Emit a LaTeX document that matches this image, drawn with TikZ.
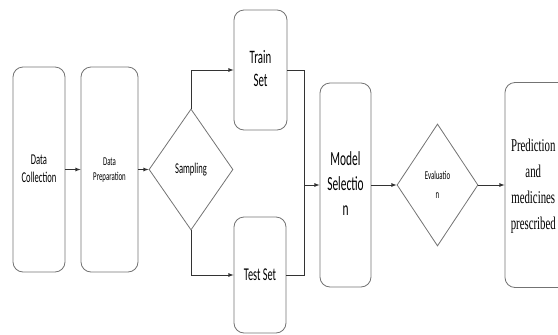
\documentclass[tikz,border=0pt]{standalone}
\usepackage{graphicx}
\usepackage{fontspec}
\setmainfont{Carlito}
\newfontfamily\predfont{Liberation Serif}
\usetikzlibrary{shapes.geometric}
\newcommand{\squash}[2][0.57]{\scalebox{#1}[1]{#2}}

\tikzset{
  stage/.style={draw=black!55, line width=0.8pt, rounded corners=10pt, inner sep=0pt},
  check/.style={diamond, draw=black!55, line width=0.8pt, inner sep=0pt},
  flow/.style={-latex, draw=black!80, line width=0.8pt},
}

\begin{document}
\begin{tikzpicture}[x=1pt,y=-1pt]
\useasboundingbox (0,0) rectangle (558,335);
\clip (0,0) rectangle (558,335);

\node[stage, minimum width=52pt, minimum height=205pt, font=\fontsize{15}{18}\selectfont] (dc) at (39,169.5) {
    \squash{\begin{tabular}{c}
    Data\\
    Collection
    \end{tabular}}
    };
\node[stage, right of=dc, node distance=70.5pt, minimum width=57pt, minimum height=205pt, font=\fontsize{12}{15}\selectfont] (dp) {
    \squash{\begin{tabular}{c}
    Data\\
    Preparation
    \end{tabular}}
    };
\node[check, right of=dp, node distance=81.5pt, minimum width=84pt, minimum height=121pt, font=\fontsize{15}{18}\selectfont] (smp) {\squash{Sampling}};
\node[stage, minimum width=53pt, minimum height=120pt, font=\fontsize{19}{23}\selectfont] (tr) at (260.5,70) {
    \squash{\begin{tabular}{c}
    Train\\
    Set
    \end{tabular}}
    };
\node[stage, minimum width=52pt, minimum height=116pt, font=\fontsize{18}{22}\selectfont] (ts) at (260,275) {\squash{Test Set}};
\node[stage, minimum width=51pt, minimum height=204pt, font=\fontsize{20}{25}\selectfont] (ms) at (345.5,185) {
    \squash{\begin{tabular}{c}
    Model\\
    Selectio\\
    n
    \end{tabular}}
    };
\node[check, right of=ms, node distance=92pt, minimum width=81pt, minimum height=122pt, font=\fontsize{12}{19}\selectfont] (ev) {
    \squash{\begin{tabular}{c}
    Evaluatio\\
    n
    \end{tabular}}
    };
\node[stage, right of=ev, node distance=102.5pt, minimum width=70pt, minimum height=205pt, font=\predfont\fontsize{18}{26}\selectfont] (pr) {
    \squash[0.6]{\begin{tabular}{c}
    Prediction\\
    and\\
    medicines\\
    prescribed
    \end{tabular}}
    \hspace*{9pt}
    };

\coordinate (jn) at (304,185);

\draw[flow] (dc) -- (dp);
\draw[flow] (dp) -- (smp);
\draw[flow] (smp.north) |- (tr.west);
\draw[flow] (smp.south) |- (ts.west);
\draw[draw=black!80, line width=0.8pt] (tr.east) -| (jn);
\draw[draw=black!80, line width=0.8pt] (ts.east) -| (jn);
\draw[flow] (jn) -- (jn -| ms.west);
\draw[flow] (ms) -- (ev);
\draw[flow] (ev) -- (pr);
\end{tikzpicture}
\end{document}
